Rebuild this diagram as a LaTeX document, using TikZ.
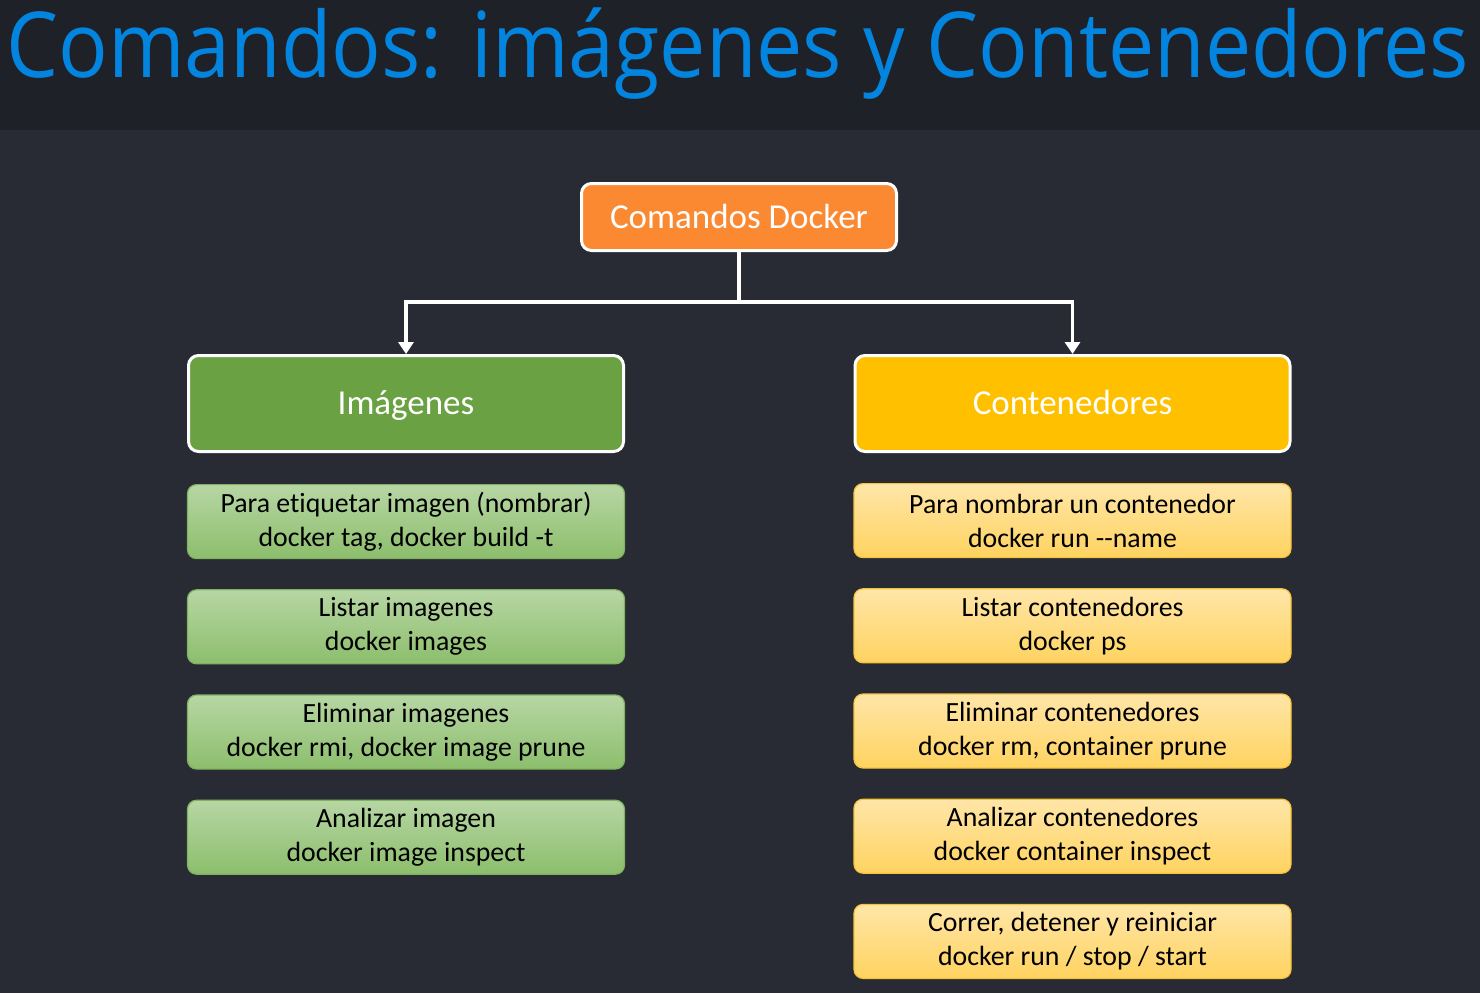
\documentclass[tikz,border=0pt]{standalone}
\usepackage{fontspec}
\setmainfont[Ligatures={TeX,NoCommon}]{Carlito}
\newfontfamily\titlefont[FakeStretch=0.906]{Open Sans}
\usetikzlibrary{arrows.meta}
\usetikzlibrary{positioning}
\definecolor{bgtitle}{RGB}{31, 33, 41}
\definecolor{bgbody}{RGB}{40, 43, 51}
\definecolor{titleblue}{RGB}{3, 132, 222}
\definecolor{dockerorange}{RGB}{251, 137, 50}
\definecolor{imggreen}{RGB}{106, 161, 66}
\definecolor{imgtop}{RGB}{183, 214, 164}
\definecolor{imgbottom}{RGB}{140, 190, 108}
\definecolor{imgborder}{RGB}{128, 178, 96}
\definecolor{contyellow}{RGB}{255, 192, 0}
\definecolor{conttop}{RGB}{255, 230, 168}
\definecolor{contbottom}{RGB}{255, 211, 96}
\definecolor{contborder}{RGB}{246, 196, 60}

\tikzset{
    header/.style={draw=white, line width=3pt, rounded corners=10pt, text=white,
                   font=\fontsize{35}{40}\selectfont, align=center, inner sep=0pt,
                   text height=24pt, text depth=2pt},
    item/.style={rounded corners=9pt, line width=1.2pt, minimum width=437pt, minimum height=74pt,
                 align=center, font=\fontsize{27.8}{34}\selectfont, inner sep=0pt},
    imgitem/.style={item, draw=imgborder, top color=imgtop, bottom color=imgbottom},
    contitem/.style={item, draw=contborder, top color=conttop, bottom color=contbottom},
    link/.style={white, line width=3.8pt, -{Triangle[width=15pt, length=12pt]}}
}

\begin{document}
\begin{tikzpicture}[x=1pt, y=-1pt]
            \fill[bgbody]                          (0, 0) rectangle (1480, 993);
            \fill[bgtitle]                         (0, 0) rectangle (1480, 130);
            \useasboundingbox                      (0, 0) rectangle (1480, 993);

            \node[anchor=base west, inner sep=0pt, text=titleblue, font=\titlefont\fontsize{91}{100}\selectfont]
                 (title) at (6, 77) {Comandos: imágenes y Contenedores};

            \node[header, fill=dockerorange, minimum width=315pt, minimum height=67pt] (docker) at ( 739.0, 217.0) {Comandos Docker};
            \node[header, fill=imggreen,     minimum width=435pt, minimum height=96pt] (img)    at ( 406.0, 403.5) {Imágenes};
            \node[header, fill=contyellow,   minimum width=435pt, minimum height=96pt] (cont)   at (1072.5, 403.5) {Contenedores};

            \draw[link] (docker.south) -- ++(0, 50) -| (img.north);
            \draw[link] (docker.south) -- ++(0, 50) -| (cont.north);

            % imagenes
            \node[imgitem, below=31pt of img]     (tag)     {Para etiquetar imagen (nombrar)\\docker tag, docker build -t};
            \node[imgitem, below=30pt of tag]     (images)  {Listar imagenes\\docker images};
            \node[imgitem, below=30pt of images]  (rmi)     {Eliminar imagenes\\docker rmi, docker image prune};
            \node[imgitem, below=30pt of rmi]     (inspi)   {Analizar imagen\\docker image inspect};

            % contenedores
            \node[contitem, below=30pt of cont]   (name)    {Para nombrar un contenedor\\docker run {-}{-}name};
            \node[contitem, below=30pt of name]   (ps)      {Listar contenedores\\docker ps};
            \node[contitem, below=30pt of ps]     (rm)      {Eliminar contenedores\\docker rm, container prune};
            \node[contitem, below=30pt of rm]     (inspc)   {Analizar contenedores\\docker container inspect};
            \node[contitem, below=30pt of inspc]  (run)     {Correr, detener y reiniciar\\docker run / stop / start};
\end{tikzpicture}
\end{document}
